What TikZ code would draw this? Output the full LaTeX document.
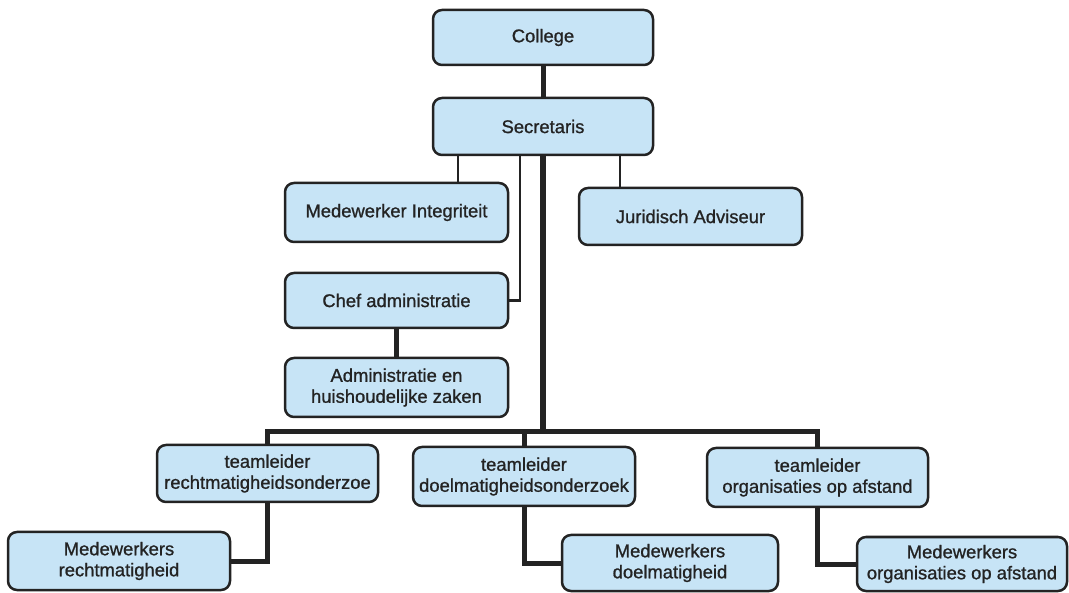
\documentclass[tikz,border=0pt]{standalone}
\usepackage{fontspec}
\setmainfont{Liberation Sans}
\newfontfamily\boxfont{Liberation Sans}[FakeBold=1]
\usepackage{xcolor}
\definecolor{boxblue}{RGB}{199,228,246}
\definecolor{inkdark}{RGB}{35,35,35}

\begin{document}
\begin{tikzpicture}[x=1pt,y=-1pt,
  unit/.style={draw=inkdark,fill=boxblue,line width=2.5pt,rounded corners=9pt,align=center,inner sep=0pt,text=inkdark,font=\boxfont\fontsize{18.4}{21}\selectfont},
  thicklink/.style={draw=inkdark,line width=5pt},
  thinlink/.style={draw=inkdark,line width=2.5pt}]
\useasboundingbox (0,0) rectangle (1069,593);

%top
\node[unit,minimum width=220pt,minimum height=55pt] (college) at (543,37.5) {College};
\node[unit,minimum width=220pt,minimum height=57pt] (secretaris) at (543,126.5) {Secretaris};

%staff
\node[unit,minimum width=223pt,minimum height=59pt] (integriteit) at (396.5,212.5) {Medewerker Integriteit};
\node[unit,minimum width=223pt,minimum height=57pt] (juridisch) at (690.5,216.5) {Juridisch Adviseur};
\node[unit,minimum width=223pt,minimum height=55pt] (chef) at (396.5,300.5) {Chef administratie};
\node[unit,minimum width=223pt,minimum height=59pt] (admin) at (396.5,387.5) {Administratie en\\huishoudelijke zaken};

%teams
\node[unit,minimum width=221pt,minimum height=57pt] (tlrecht) at (267.5,473.5) {teamleider\\rechtmatigheidsonderzoe};
\node[unit,minimum width=222pt,minimum height=59pt] (tldoel) at (524,476.5) {teamleider\\doelmatigheidsonderzoek};
\node[unit,minimum width=221pt,minimum height=59pt] (tlorg) at (817.5,477.5) {teamleider\\organisaties op afstand};
\node[unit,minimum width=222pt,minimum height=58pt] (mwrecht) at (119,561) {Medewerkers\\rechtmatigheid};
\node[unit,minimum width=216pt,minimum height=56pt] (mwdoel) at (670,563) {Medewerkers\\doelmatigheid};
\node[unit,minimum width=210pt,minimum height=54pt] (mworg) at (962,564) {Medewerkers\\organisaties op afstand};

\coordinate (bus) at (543,432);

%links
\draw[thicklink] (college.south) -- (secretaris.north);
\draw[thicklink,line width=6pt] (secretaris.south) -- (bus);
\draw[thinlink] (secretaris.south -| 458,0) -- (integriteit.north -| 458,0);
\draw[thinlink] (secretaris.south -| 520,0) |- (chef.east);
\draw[thinlink] (secretaris.south -| 620,0) -- (juridisch.north -| 620,0);
\draw[thicklink] (chef.south) -- (admin.north);
\draw[thicklink] (tlrecht.north) |- (bus) -| (tlorg.north);
\draw[thicklink] (tldoel.north) -- (tldoel.north |- bus);
\draw[thicklink] (tlrecht.south) |- (mwrecht.east);
\draw[thicklink] (tldoel.south) |- (mwdoel.west);
\draw[thicklink] (tlorg.south) |- (mworg.west);
\end{tikzpicture}
\end{document}
